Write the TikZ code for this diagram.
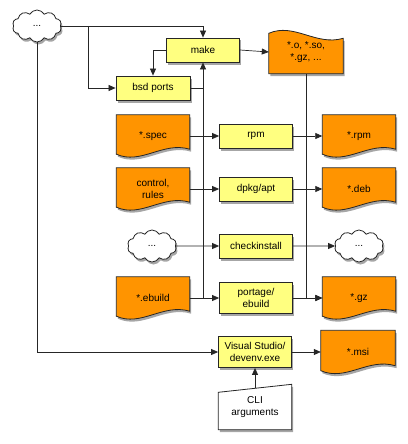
\documentclass[tikz,border=0pt]{standalone}
\usepackage{fontspec}
\setmainfont{Liberation Sans}
\usepackage{xcolor}
\usetikzlibrary{arrows.meta,shapes.symbols,shadows,backgrounds,calc}

\definecolor{procyellow}{RGB}{255,255,128}
\definecolor{docorange}{RGB}{255,148,0}

\tikzset{
    softshadow/.style={drop shadow={shadow xshift=1.5pt, shadow yshift=-2.5pt, opacity=0.35, fill=black}},
    proc/.style={draw=black!85, line width=0.8pt, fill=procyellow, minimum width=73pt,
        minimum height=24pt, align=center, softshadow},
    doc/.style={minimum width=73pt, minimum height=42pt, align=center},
    docline/.style={draw=black!85, line width=0.8pt, fill=docorange, softshadow},
    blob/.style={cloud, cloud puffs=10, cloud puff arc=120, cloud ignores aspect, draw=black!85, line width=0.8pt,
        fill=white, minimum width=49pt, minimum height=32pt, inner sep=1pt, softshadow},
    conn/.style={draw=black!85, line width=0.7pt, -{Triangle[length=7pt,width=6pt]}},
}

% outline of a document, wavy at the bottom (drawn behind the node)
\newcommand{\docbottom}[1]{%
    \draw[docline] (#1.north west) -- (#1.north east) -- ($(#1.south east)+(0,-8)$)
        .. controls ($(#1.south)+(10,-16)$) and ($(#1.south)+(-12,8)$) .. ($(#1.south west)+(0,-3)$) -- cycle;}
% same, wavy at the top
\newcommand{\doctop}[1]{%
    \draw[docline] (#1.south west) -- (#1.south east) -- ($(#1.north east)+(0,8)$)
        .. controls ($(#1.north)+(10,16)$) and ($(#1.north)+(-12,-8)$) .. ($(#1.north west)+(0,3)$) -- cycle;}

\begin{document}
\begin{tikzpicture}[x=1pt, y=-1pt, font=\fontsize{10}{12}\selectfont]
    % coordinates in pixels, y going down
    \useasboundingbox (0,0) rectangle (407,444);

    % sources and tools
    \node[blob] (top) at (37,26) {...};
    \node[proc] (make) at (203,50) {make};
    \node[proc, minimum width=74pt] (bsd) at (153,88) {bsd ports};
    \node[doc, minimum width=74pt, minimum height=43pt] (objs) at (306,52) {*.o, *.so,\\*.gz, ...};

    \node[doc] (spec) at (153,136) {*.spec};
    \node[proc] (rpm) at (256,136) {rpm};
    \node[doc] (rpmout) at (359,136) {*.rpm};

    \node[doc] (ctrl) at (153,189) {control,\\rules};
    \node[proc] (dpkg) at (256,189) {dpkg/apt};
    \node[doc] (deb) at (359,189) {*.deb};

    \node[blob] (inB) at (152,246) {...};
    \node[proc] (check) at (256,246) {checkinstall};
    \node[blob] (outB) at (359,246) {...};

    \node[doc] (ebuild) at (153,298) {*.ebuild};
    \node[proc, minimum height=31pt] (portage) at (256,298) {portage/\\ebuild};
    \node[doc] (gz) at (359,298) {*.gz};

    \node[proc, minimum height=31pt] (vs) at (255,352) {Visual Studio/\\devenv.exe};
    \node[doc, minimum width=74pt, minimum height=43pt] (msi) at (358,352) {*.msi};
    \node[minimum width=73pt, minimum height=45pt, align=center] (cli) at (255,407) {CLI\\arguments};

    % shapes behind the texts
    \begin{scope}[on background layer]
        \foreach \d in {spec,rpmout,ctrl,deb,ebuild,gz,msi}{\docbottom{\d}}
        \doctop{objs}
        \draw[draw=black!85, line width=0.8pt, fill=white, softshadow]
            (cli.south west) -- (cli.south east) -- (cli.north east) -- ($(cli.north west)+(0,8)$) -- cycle;
    \end{scope}

    % connectors
    \draw[conn] (top.east) -| (make.north);
    \coordinate (split) at ($(top.east)+(27,0)$);
    \draw[conn] (split) |- (bsd.west);
    \draw[conn] (make.west) -| (bsd.north);
    \draw[draw=black!85, line width=0.7pt] (bsd.east) -- (bsd.east -| make.south);
    \draw[conn] (make.south |- portage.west) -- (make.south);
    \draw[conn] (make.east) -- (objs.west);
    \draw[conn] (objs.south) |- (gz.west);
    \foreach \i/\p/\o in {spec/rpm/rpmout, ctrl/dpkg/deb, inB/check/outB, ebuild/portage/gz}{
        \draw[conn] (\i.east) -- (\p.west);
        \draw[conn] (\p.east) -- (\o.west);
    }
    \draw[conn] (top.south) |- (vs.west);
    \draw[conn] (vs.east) -- (msi.west);
    \coordinate (cliTop) at ($(cli.north)+(0,4)$);
    \draw[conn] (cliTop) -- (vs.south);
\end{tikzpicture}
\end{document}
